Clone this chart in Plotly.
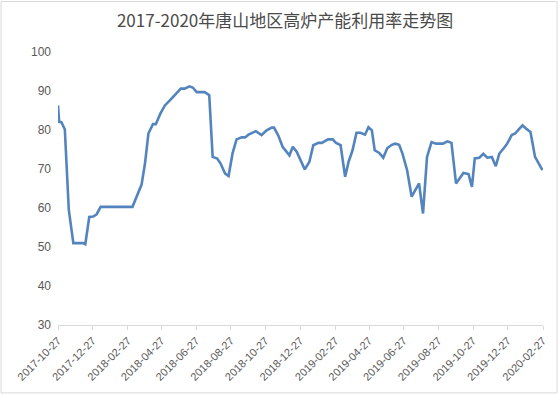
import plotly.graph_objects as go

title_text = "2017-2020年唐山地区高炉产能利用率走势图"

dates = [
    "2017-10-27", "2017-10-29", "2017-11-02", "2017-11-08", "2017-11-15", "2017-11-23",
    "2017-12-10", "2017-12-14", "2017-12-21", "2017-12-28", "2018-01-03", "2018-01-10",
    "2018-03-07", "2018-03-14", "2018-03-23", "2018-03-29", "2018-04-04", "2018-04-12",
    "2018-04-17", "2018-04-25", "2018-05-03", "2018-05-13", "2018-05-22", "2018-05-31",
    "2018-06-07", "2018-06-15", "2018-06-21", "2018-06-28", "2018-07-12", "2018-07-20",
    "2018-07-26", "2018-08-03", "2018-08-09", "2018-08-17", "2018-08-23", "2018-08-30",
    "2018-09-06", "2018-09-15", "2018-09-21", "2018-09-27", "2018-10-10", "2018-10-20",
    "2018-10-29", "2018-11-07", "2018-11-11", "2018-11-19", "2018-11-26", "2018-12-08",
    "2018-12-14", "2018-12-21", "2019-01-04", "2019-01-12", "2019-01-19", "2019-01-28",
    "2019-02-03", "2019-02-14", "2019-02-22", "2019-02-28", "2019-03-08", "2019-03-16",
    "2019-03-22", "2019-03-29", "2019-04-05", "2019-04-12", "2019-04-20", "2019-04-26",
    "2019-05-02", "2019-05-07", "2019-05-15", "2019-05-22", "2019-05-29", "2019-06-06",
    "2019-06-12", "2019-06-19", "2019-06-25", "2019-07-03", "2019-07-11", "2019-07-17",
    "2019-07-24", "2019-07-31", "2019-08-07", "2019-08-15", "2019-08-23", "2019-09-04",
    "2019-09-12", "2019-09-19", "2019-09-27", "2019-10-10", "2019-10-19", "2019-10-25",
    "2019-10-30", "2019-11-07", "2019-11-14", "2019-11-21", "2019-11-29", "2019-12-06",
    "2019-12-12", "2019-12-22", "2019-12-26", "2020-01-03", "2020-01-09", "2020-01-15",
    "2020-01-22", "2020-01-28", "2020-02-05", "2020-02-13", "2020-02-20", "2020-02-26",
]

utilization = [
    86.3, 82.1, 82.0, 80.2, 59.5, 51.0,
    51.0, 50.7, 57.7, 57.8, 58.4, 60.3,
    60.3, 62.9, 66.0, 71.4, 79.1, 81.5,
    81.5, 84.2, 86.3, 87.8, 89.3, 90.6,
    90.6, 91.2, 90.9, 89.7, 89.7, 88.9,
    73.1, 72.7, 71.4, 68.8, 68.2, 74.0,
    77.6, 78.1, 78.1, 78.8, 79.7, 78.7,
    79.9, 80.6, 80.6, 78.4, 75.7, 73.5,
    75.7, 74.4, 69.9, 71.8, 76.1, 76.7,
    76.7, 77.6, 77.6, 76.7, 76.1, 68.0,
    71.8, 74.8, 79.3, 79.3, 78.8, 80.7,
    79.9, 74.8, 74.1, 72.9, 75.3, 76.2,
    76.5, 76.2, 73.9, 69.7, 62.9, 64.6,
    66.3, 58.6, 73.1, 76.9, 76.5, 76.5,
    77.1, 76.7, 66.3, 69.0, 68.7, 65.4,
    72.7, 72.9, 73.9, 72.9, 73.1, 70.7,
    73.9, 75.7, 76.5, 78.7, 79.1, 80.1,
    81.2, 80.4, 79.5, 73.1, 71.4, 69.7,
]

tick_dates = [
    "2017-10-27", "2017-12-27", "2018-02-27", "2018-04-27", "2018-06-27",
    "2018-08-27", "2018-10-27", "2018-12-27", "2019-02-27", "2019-04-27",
    "2019-06-27", "2019-08-27", "2019-10-27", "2019-12-27", "2020-02-27",
]
y_ticks = [30, 40, 50, 60, 70, 80, 90, 100]

fig = go.Figure()
fig.add_trace(go.Scatter(
    x=dates, y=utilization, mode="lines",
    line=dict(color="#5384bd", width=2.6),
    hoverinfo="x+y", showlegend=False,
))

fig.update_layout(
    width=559, height=395,
    margin=dict(l=58, r=16, t=52, b=70),
    paper_bgcolor="white", plot_bgcolor="white",
    title=dict(text=title_text, x=0.51, xanchor="center", y=0.947, yanchor="middle",
               font=dict(family="Noto Sans CJK SC", size=17, color="#4a4a4a")),
    font=dict(family="Noto Sans CJK SC", color="#595959"),
    xaxis=dict(
        type="date", range=[tick_dates[0], tick_dates[-1]],
        tickmode="array", tickvals=tick_dates, ticktext=tick_dates,
        tickangle=-45, tickfont=dict(size=11, color="#595959", family="Liberation Sans"),
        showgrid=False, zeroline=False,
        showline=True, linecolor="#d9d9d9", linewidth=1,
        ticks="outside", ticklen=4, tickcolor="#d9d9d9",
    ),
    yaxis=dict(
        range=[30, 100], tickmode="array", tickvals=y_ticks,
        tickfont=dict(size=12, color="#595959", family="Liberation Sans"),
        showgrid=False, zeroline=False, showline=False, ticks="",
        ticklabelstandoff=6,
    ),
    shapes=[dict(type="rect", xref="paper", yref="paper",
                 x0=-0.1175, x1=1.0289, y0=-0.2487, y1=1.185,
                 line=dict(color="#d9d9d9", width=1), layer="below")],
)

fig.write_html("out.html")
